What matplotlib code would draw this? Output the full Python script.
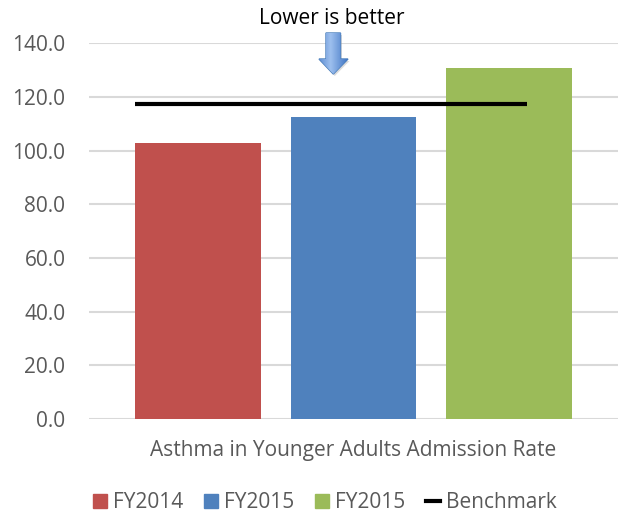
import numpy as np
import matplotlib.pyplot as plt
from matplotlib.patches import Polygon, Patch
from matplotlib.lines import Line2D
from matplotlib.colors import LinearSegmentedColormap

# Admission rates per fiscal year and the benchmark
series = ['FY2014', 'FY2015', 'FY2015']
values = [102.7, 112.6, 130.9]
benchmark = 117.4
category = 'Asthma in Younger Adults Admission Rate'
colors = ['#C0504D', '#4F81BD', '#9BBB59']
yticks = [0, 20, 40, 60, 80, 100, 120, 140]

plt.rcParams['font.family'] = ['Open Sans', 'DejaVu Sans']
FONTSIZE = 15
GREY = '#595959'

W, H = 619, 515
fig = plt.figure(figsize=(W / 100, H / 100), dpi=100)
ax = fig.add_axes([89 / W, 1 - 419 / H, (618 - 89) / W, (419 - 43.3) / H])

x = np.arange(len(values))
ax.bar(x, values, width=0.81, color=colors, zorder=2)
ax.hlines(benchmark, -0.405, 2.116, color='black', linewidth=3, zorder=3)

ax.set_xlim(-0.701, 2.701)
ax.set_ylim(0, 140)
ax.set_yticks(yticks)
ax.set_yticklabels(['%.1f' % t for t in yticks], fontsize=FONTSIZE, color=GREY)
ax.set_xticks([])
ax.tick_params(axis='y', length=0, pad=17)
ax.grid(axis='y', color='#d9d9d9', linewidth=1.5, zorder=0)
for s in ax.spines.values():
    s.set_visible(False)

ax.text(1, -0.083, category, transform=ax.get_xaxis_transform(),
        ha='center', va='center', fontsize=FONTSIZE, color=GREY)

# "Lower is better" callout with a shaded down arrow
fig.text(332 / W, 1 - 19 / H, 'Lower is better', ha='center', va='center',
         fontsize=FONTSIZE, color='black')

pts = [(326, 33), (340.5, 33), (340.5, 59), (348, 59), (333.3, 74),
       (319, 59), (326, 59)]
x0, x1, y0, y1 = 314, 353, 30, 79
aax = fig.add_axes([x0 / W, 1 - y1 / H, (x1 - x0) / W, (y1 - y0) / H])
aax.set_xlim(x0, x1)
aax.set_ylim(y1, y0)
aax.axis('off')
shadow = Polygon([(px + 1.5, py + 2) for px, py in pts], closed=True,
                 facecolor='#999999', edgecolor='none', alpha=0.35)
aax.add_patch(shadow)
grad = np.linspace(0, 1, 64)
grad = 1 - np.abs(grad - 0.4) * 1.6
grad = np.tile(grad, (32, 1))
arrow = Polygon(pts, closed=True, facecolor='none', edgecolor='#4a7ebb',
                linewidth=1.0)
aax.add_patch(arrow)
cmap = LinearSegmentedColormap.from_list('arr', ['#3f75c4', '#9dbfee'])
img = aax.imshow(grad, cmap=cmap, extent=(319, 348, 74, 33), aspect='auto',
                 zorder=1)
img.set_clip_path(arrow)

handles = [Patch(color=c) for c in colors]
handles.append(Line2D([], [], color='black', linewidth=3))
fig.legend(handles, series + ['Benchmark'], loc='center', ncol=4,
           bbox_to_anchor=(325 / W, 1 - 503 / H), frameon=False,
           fontsize=FONTSIZE, labelcolor=GREY, handlelength=0.65,
           handleheight=0.65, handletextpad=0.3, columnspacing=1.0)

fig.savefig('out.png', dpi=100)
